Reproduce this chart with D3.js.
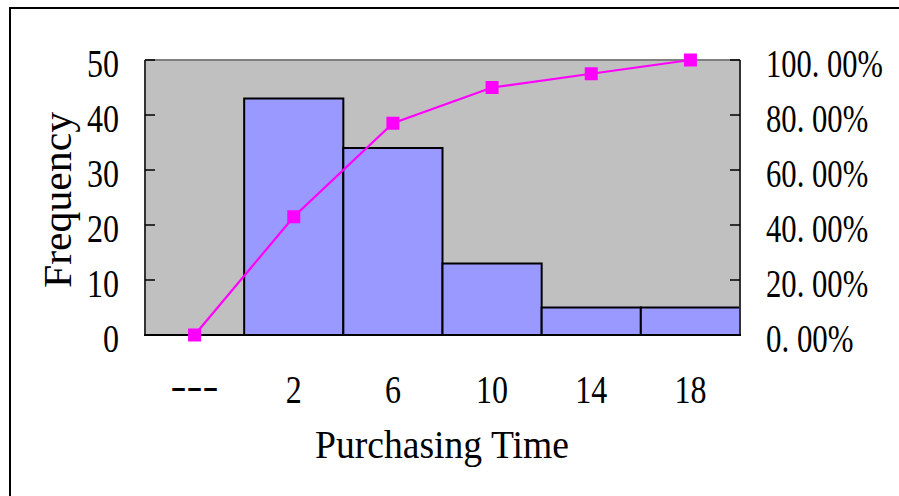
<!DOCTYPE html>
<html>
<head>
<meta charset="utf-8">
<script src="https://cdn.jsdelivr.net/npm/d3@7"></script>
<style>
  html, body { margin: 0; padding: 0; background: #fff; }
  svg { display: block; }
  text { font-family: "Liberation Serif", "DejaVu Serif", serif; fill: #000; }
</style>
</head>
<body>
<svg width="899" height="496"></svg>
<script>
"use strict";

// chart values
const categories = ["---", "2", "6", "10", "14", "18"];
const frequency = [0, 43, 34, 13, 5, 5];
const cumulative = [0, 0.43, 0.77, 0.9, 0.95, 1.0];
const leftTicks = [0, 10, 20, 30, 40, 50];
const rightTicks = [0, 0.2, 0.4, 0.6, 0.8, 1.0];
const rightTickLabels = ["0. 00%", "20. 00%", "40. 00%", "60. 00%", "80. 00%", "100. 00%"];

window.addEventListener("load", drawChart);

// squeeze a text horizontally so it is `width` px wide, anchored at (x, y)
function placeText(sel, x, y, width, rotate) {
  sel.each(function (d, i) {
    const node = this;
    const natural = node.getComputedTextLength();
    const w = typeof width === "function" ? width(d, i) : width;
    const sx = natural > 0 ? w / natural : 1;
    const px = typeof x === "function" ? x(d, i) : x;
    const py = typeof y === "function" ? y(d, i) : y;
    const rot = rotate ? ` rotate(${rotate})` : "";
    d3.select(node).attr("transform", `translate(${px},${py})${rot} scale(${sx},1)`);
  });
}

function drawChart() {
  const svg = d3.select("svg");
  const plot = { left: 145, right: 740, top: 60, bottom: 335 };
  const fontSize = 40;

  // outer frame (runs off the right and bottom of the picture)
  svg.append("rect")
    .attr("x", 10).attr("y", 8)
    .attr("width", 1000).attr("height", 1000)
    .attr("fill", "#fff")
    .attr("stroke", "#000")
    .attr("stroke-width", 2);

  const x = d3.scaleBand()
    .domain(categories)
    .range([plot.left, plot.right])
    .padding(0);

  const y = d3.scaleLinear().domain([0, 50]).range([plot.bottom, plot.top]);
  const y2 = d3.scaleLinear().domain([0, 1]).range([plot.bottom, plot.top]);

  // grey plot area
  svg.append("rect")
    .attr("x", plot.left).attr("y", plot.top)
    .attr("width", plot.right - plot.left)
    .attr("height", plot.bottom - plot.top)
    .attr("fill", "#c0c0c0");

  svg.append("line")
    .attr("x1", plot.left).attr("x2", plot.right)
    .attr("y1", plot.top).attr("y2", plot.top)
    .attr("stroke", "#808080").attr("stroke-width", 2);

  // bars
  const bars = categories.map((c, i) => ({ cat: c, value: frequency[i] }))
    .filter((d) => d.value > 0);

  svg.selectAll(".bar")
    .data(bars)
    .enter()
    .append("rect")
    .attr("class", "bar")
    .attr("x", (d) => x(d.cat))
    .attr("y", (d) => y(d.value))
    .attr("width", x.bandwidth())
    .attr("height", (d) => y(0) - y(d.value))
    .attr("fill", "#9999ff")
    .attr("stroke", "#000")
    .attr("stroke-width", 2);

  // axes lines
  svg.append("line")
    .attr("x1", plot.left).attr("x2", plot.left)
    .attr("y1", plot.top).attr("y2", plot.bottom)
    .attr("stroke", "#333").attr("stroke-width", 2);
  svg.append("line")
    .attr("x1", plot.right).attr("x2", plot.right)
    .attr("y1", plot.top).attr("y2", plot.bottom)
    .attr("stroke", "#333").attr("stroke-width", 2);
  svg.append("line")
    .attr("x1", plot.left - 1).attr("x2", plot.right + 1)
    .attr("y1", plot.bottom).attr("y2", plot.bottom)
    .attr("stroke", "#000").attr("stroke-width", 2);

  // inward ticks
  svg.selectAll(".ltick")
    .data(leftTicks)
    .enter()
    .append("line")
    .attr("x1", plot.left).attr("x2", plot.left + 10)
    .attr("y1", (d) => y(d)).attr("y2", (d) => y(d))
    .attr("stroke", "#000").attr("stroke-width", 1.5);

  svg.selectAll(".rtick")
    .data(rightTicks)
    .enter()
    .append("line")
    .attr("x1", plot.right - 10).attr("x2", plot.right)
    .attr("y1", (d) => y2(d)).attr("y2", (d) => y2(d))
    .attr("stroke", "#000").attr("stroke-width", 1.5);

  // tick labels
  svg.selectAll(".llabel")
    .data(leftTicks)
    .enter()
    .append("text")
    .attr("text-anchor", "end")
    .attr("font-size", fontSize)
    .text((d) => d)
    .call(placeText, 119, (d) => y(d) + 17, (d) => String(d).length * 16);

  svg.selectAll(".rlabel")
    .data(rightTicks)
    .enter()
    .append("text")
    .attr("font-size", fontSize)
    .text((d, i) => rightTickLabels[i])
    .call(placeText, 766, (d) => y2(d) + 17, (d, i) => rightTickLabels[i].length * 14.6);

  svg.selectAll(".xlabel")
    .data(categories)
    .enter()
    .append("text")
    .attr("text-anchor", "middle")
    .attr("font-size", fontSize)
    .text((d) => d)
    .call(placeText, (d) => x(d) + x.bandwidth() / 2,
      (d) => (d === "---" ? 399 : 403), (d) => d.length * 16);

  // cumulative line
  const line = d3.line()
    .x((d) => x(d.cat) + x.bandwidth() / 2)
    .y((d) => y2(d.value));
  const points = categories.map((c, i) => ({ cat: c, value: cumulative[i] }));

  svg.append("path")
    .datum(points)
    .attr("d", line)
    .attr("fill", "none")
    .attr("stroke", "#ff00ff")
    .attr("stroke-width", 2.2);

  svg.selectAll(".marker")
    .data(points)
    .enter()
    .append("rect")
    .attr("class", "marker")
    .attr("x", (d) => x(d.cat) + x.bandwidth() / 2 - 6.5)
    .attr("y", (d) => y2(d.value) - 6.5)
    .attr("width", 13)
    .attr("height", 13)
    .attr("fill", "#ff00ff");

  // axis titles
  svg.append("text")
    .attr("text-anchor", "middle")
    .attr("font-size", fontSize)
    .text("Purchasing Time")
    .call(placeText, 442, 458, 254);

  svg.append("text")
    .attr("text-anchor", "middle")
    .attr("font-size", fontSize)
    .text("Frequency")
    .call(placeText, 71, 200, 176, -90);
}
</script>
</body>
</html>
